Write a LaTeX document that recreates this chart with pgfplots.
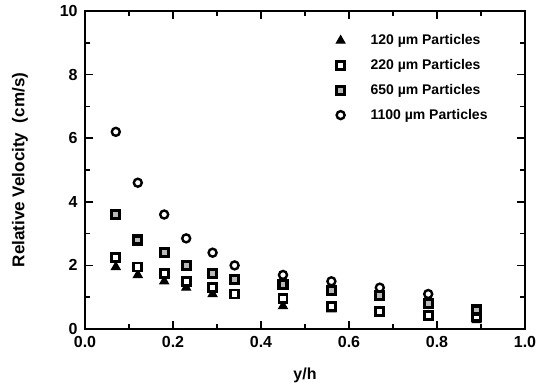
\documentclass[border=0pt]{standalone}
\usepackage{pgfplots}
\pgfplotsset{compat=1.18}
\usepackage{fontspec}
\setmainfont{Liberation Sans}
\begin{document}
\begin{tikzpicture}
\path[use as bounding box] (-63.75pt,-42.75pt) rectangle (342pt,246.75pt);
\begin{axis}[
  scale only axis,
  width=330pt, height=238.5pt,
  xmin=0, xmax=1, ymin=0, ymax=10,
  xtick={0,0.2,...,1.0}, minor xtick={0.1,0.3,...,0.9},
  ytick={0,2,...,10}, minor ytick={1,3,...,9},
  xticklabels={0.0,0.2,0.4,0.6,0.8,1.0},
  tick align=inside,
  major tick length=6pt, minor tick length=3.5pt,
  every tick/.style={black, line width=1.2pt},
  axis line style={line width=1.6pt},
  /pgf/number format/assume math mode=true,
  ticklabel style={font=\fontsize{12}{14}\selectfont\bfseries},
  xticklabel style={yshift=-2pt},
  yticklabel style={xshift=-2pt},
  xlabel={y/h}, ylabel={Relative Velocity\ \ (cm/s)},
  xlabel style={at={(axis description cs:0.5,-0.145)}, anchor=center, font=\fontsize{12}{14}\selectfont\bfseries},
  ylabel style={at={(axis description cs:-0.148,0.5)}, anchor=center, rotate=0, font=\fontsize{12.8}{14}\selectfont\bfseries},
  legend style={draw=none, fill=none, at={(axis description cs:0.553,0.935)}, anchor=north west,
    font=\fontsize{10.5}{12}\selectfont\bfseries, row sep=5.5pt, inner sep=0pt},
  legend cell align=left,
  legend image code/.code={\draw[#1] plot coordinates {(0.3cm,0cm)};\path (0cm,0cm) (1.0cm,0cm);},
]
\addplot[only marks, mark=triangle*, mark size=3.6pt, black, line width=1pt] coordinates {
(0.07,1.95) (0.12,1.7) (0.18,1.5) (0.23,1.3) (0.29,1.1) (0.34,1.05) (0.45,0.72) (0.56,0.62) (0.67,0.52) (0.78,0.42) (0.89,0.28)};
\addlegendentry{120 µm Particles}
\addplot[only marks, mark=square*, mark size=3pt, mark options={fill=white, draw=black, line width=2.2pt}] coordinates {
(0.07,2.25) (0.12,1.95) (0.18,1.75) (0.23,1.5) (0.29,1.3) (0.34,1.1) (0.45,0.95) (0.56,0.72) (0.67,0.55) (0.78,0.42) (0.89,0.38)};
\addlegendentry{220 µm Particles}
\addplot[only marks, mark=square*, mark size=3pt, mark options={fill=gray!55, draw=black, line width=2.4pt}] coordinates {
(0.07,3.6) (0.12,2.8) (0.18,2.4) (0.23,2.0) (0.29,1.75) (0.34,1.55) (0.45,1.4) (0.56,1.2) (0.67,1.05) (0.78,0.8) (0.89,0.6)};
\addlegendentry{650 µm Particles}
\addplot[only marks, mark=o, mark size=3pt, mark options={draw=black, line width=1.8pt}] coordinates {
(0.07,6.2) (0.12,4.6) (0.18,3.6) (0.23,2.85) (0.29,2.4) (0.34,2.0) (0.45,1.7) (0.56,1.5) (0.67,1.3) (0.78,1.1)};
\addlegendentry{1100 µm Particles}
\end{axis}
\end{tikzpicture}
\end{document}
